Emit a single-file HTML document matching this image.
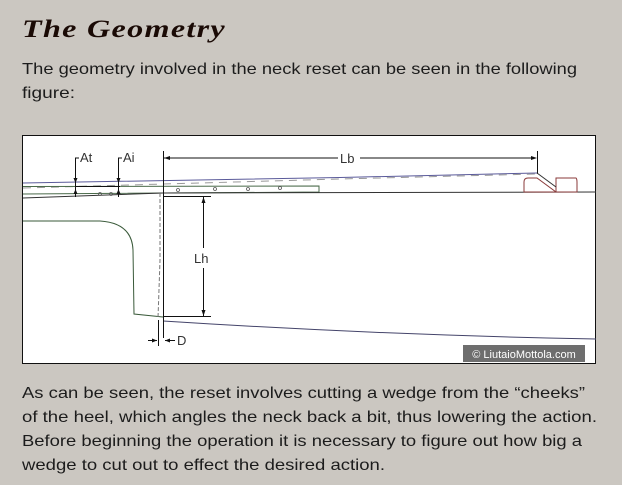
<!DOCTYPE html>
<html><head><meta charset="utf-8"><style>
html,body{margin:0;padding:0;background:#cbc7c1;}
svg{display:block;}
</style></head><body>
<svg width="622" height="485" viewBox="0 0 622 485" xmlns="http://www.w3.org/2000/svg">
<rect width="622" height="485" fill="#cbc7c1"/>
<text x="22" y="37" font-family="Liberation Serif, serif" font-weight="bold" font-style="italic" font-size="25" fill="#1a0a05" textLength="204" lengthAdjust="spacingAndGlyphs" letter-spacing="1">The Geometry</text>
<g font-family="Liberation Sans, DejaVu Sans, sans-serif" font-size="16" fill="#1c1c1c">
<text x="22" y="74" textLength="555" lengthAdjust="spacingAndGlyphs">The geometry involved in the neck reset can be seen in the following</text>
<text x="22" y="98" textLength="53" lengthAdjust="spacingAndGlyphs">figure:</text>
<text x="22" y="398" textLength="563" lengthAdjust="spacingAndGlyphs">As can be seen, the reset involves cutting a wedge from the “cheeks”</text>
<text x="22" y="422" textLength="575" lengthAdjust="spacingAndGlyphs">of the heel, which angles the neck back a bit, thus lowering the action.</text>
<text x="22" y="446" textLength="560" lengthAdjust="spacingAndGlyphs">Before beginning the operation it is necessary to figure out how big a</text>
<text x="22" y="470" textLength="363" lengthAdjust="spacingAndGlyphs">wedge to cut out to effect the desired action.</text>
</g>
<rect x="22.5" y="135.5" width="573" height="228" fill="#fff" stroke="#111" stroke-width="1"/>
<g fill="none" stroke-width="1">
<polyline points="23,183 340,177.5 537,173" stroke="#5a5a9a"/>
<polyline points="23,188 340,179 537,174" stroke="#999" stroke-dasharray="8,6"/>
<polyline points="23,186.5 319,186 319,192 23,194" stroke="#4a6a4a"/>
<polyline points="23,198 163,193 596,192" stroke="#333"/>
<path d="M23,221 L100,221 Q132,223 133,250 L134,314 L163,317" stroke="#3a5a3a"/>
<path d="M163,321 Q380,335 596,339" stroke="#44446a"/>
<line x1="163.5" y1="151" x2="163.5" y2="338" stroke="#111"/>
<path d="M160,193 L160,260 Q159,290 158,318" stroke="#777" stroke-dasharray="4,2"/>
<line x1="164" y1="158" x2="338" y2="158" stroke="#111"/>
<line x1="360" y1="158" x2="535" y2="158" stroke="#111"/>
<line x1="537.5" y1="151" x2="537.5" y2="174" stroke="#111"/>
<line x1="163" y1="196.5" x2="211" y2="196.5" stroke="#111"/>
<line x1="163" y1="316.5" x2="211" y2="316.5" stroke="#111"/>
<line x1="203.5" y1="197" x2="203.5" y2="248" stroke="#111"/>
<line x1="203.5" y1="268" x2="203.5" y2="316" stroke="#111"/>
<polyline points="79,158 75.5,158 75.5,197" stroke="#111"/>
<polyline points="122,158 118.5,158 118.5,197" stroke="#111"/>
<line x1="75" y1="186.5" x2="120" y2="186.5" stroke="#111"/>
<line x1="158.5" y1="320" x2="158.5" y2="346" stroke="#111"/>
<line x1="148" y1="340.5" x2="157" y2="340.5" stroke="#111"/>
<line x1="165" y1="340.5" x2="175" y2="340.5" stroke="#111"/>
<path d="M524,192 L524,182 Q524,178 528,178 L537,178 L556,192 Z M556,192 L556,178 L576,178 Q577,179 577,182 L577,192 Z" stroke="#8a3a3a"/>
<line x1="537" y1="173" x2="556" y2="187" stroke="#333"/>
</g>
<g fill="#111">
<polygon points="164,158 170,156 170,160"/>
<polygon points="537,158 531,156 531,160"/>
<polygon points="203.5,197 201.5,203 205.5,203"/>
<polygon points="203.5,316 201.5,310 205.5,310"/>
<polygon points="75.5,183 73.5,178 77.5,178"/>
<polygon points="75.5,189 73.5,194 77.5,194"/>
<polygon points="118.5,183 116.5,178 120.5,178"/>
<polygon points="118.5,189 116.5,194 120.5,194"/>
<polygon points="157,340.5 152,338.5 152,342.5"/>
<polygon points="165,340.5 170,338.5 170,342.5"/>
</g>
<g fill="none" stroke="#555" stroke-width="0.8">
<circle cx="100" cy="194" r="1.5"/><circle cx="111" cy="194" r="1.5"/><circle cx="178" cy="190" r="1.5"/><circle cx="215" cy="189" r="1.5"/><circle cx="248" cy="189" r="1.5"/><circle cx="280" cy="188" r="1.5"/>
</g>
<g font-family="Liberation Sans, sans-serif" font-size="13" fill="#333">
<text x="80" y="162">At</text>
<text x="123" y="162">Ai</text>
<text x="340" y="163">Lb</text>
<text x="194" y="263">Lh</text>
<text x="177" y="345">D</text>
</g>
<rect x="463" y="345" width="122" height="17" fill="#6e6e6e"/>
<text x="524" y="358" text-anchor="middle" font-family="Liberation Sans, sans-serif" font-size="11" fill="#fff">© LiutaioMottola.com</text>
</svg>
</body></html>
